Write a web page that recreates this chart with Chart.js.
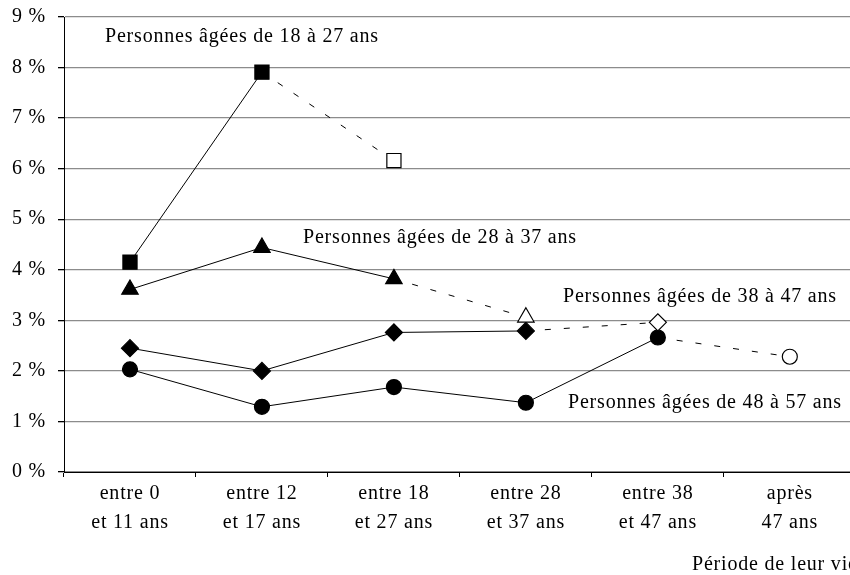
<!DOCTYPE html>
<html>
<head>
<meta charset="utf-8">
<script src="https://cdn.jsdelivr.net/npm/chart.js@4/dist/chart.umd.min.js"></script>
<style>
  html, body { margin: 0; padding: 0; background: #fff; overflow: hidden; }
  #wrap { width: 867px; height: 575px; }
</style>
</head>
<body>
<div id="wrap"><canvas id="lifeChart"></canvas></div>
<script>
// Data block
const periods = [
    ['entre 0', 'et 11 ans'],
    ['entre 12', 'et 17 ans'],
    ['entre 18', 'et 27 ans'],
    ['entre 28', 'et 37 ans'],
    ['entre 38', 'et 47 ans'],
    ['après', '47 ans']
];
const age18to27 = [4.15, 7.91, 6.16, null, null, null];
const age28to37 = [3.61, 4.44, 3.82, 3.06, null, null];
const age38to47 = [2.45, 2.00, 2.76, 2.79, 2.96, null];
const age48to57 = [2.03, 1.29, 1.68, 1.37, 2.66, 2.28];
const groupLabels = [
    'Personnes âgées de 18 à 27 ans',
    'Personnes âgées de 28 à 37 ans',
    'Personnes âgées de 38 à 47 ans',
    'Personnes âgées de 48 à 57 ans'
];
const yTicks = [0, 1, 2, 3, 4, 5, 6, 7, 8, 9];
const axisTitle = 'Période de leur vie';

const serif = 'Liberation Serif';
const spacing = '0.8px';

// last known point of a series is drawn hollow, reached by a dashed segment
function lastIndex(values) {
    let idx = -1;
    values.forEach((v, i) => { if (v !== null) idx = i; });
    return idx;
}

function makeSeries(label, values, style, radius) {
    const last = lastIndex(values);
    return {
        label: label,
        data: values,
        borderColor: '#000',
        borderWidth: 1,
        pointStyle: style,
        pointRadius: radius,
        pointHoverRadius: radius,
        pointBorderColor: '#000',
        pointBorderWidth: 1.2,
        pointBackgroundColor: values.map((v, i) => i === last ? '#fff' : '#000'),
        segment: {
            borderDash: ctx => ctx.p1DataIndex === last ? [6, 13] : undefined
        },
        tension: 0,
        spanGaps: false
    };
}

// no extra room around the plot, the axes decide it
function noPadding(scale) {
    scale.paddingLeft = 0;
    scale.paddingRight = 0;
    scale.paddingTop = 0;
    scale.paddingBottom = 0;
}

// wider letter spacing, like the original print
const letterSpacing = {
    id: 'letterSpacing',
    beforeUpdate(chart) { chart.ctx.letterSpacing = spacing; },
    beforeDraw(chart) { chart.ctx.letterSpacing = spacing; }
};

// Free text labels inside the plot
const annotationText = {
    id: 'annotationText',
    afterDraw(chart) {
        const ctx = chart.ctx;
        ctx.save();
        ctx.letterSpacing = spacing;
        ctx.fillStyle = '#000';
        ctx.font = '20px "' + serif + '"';
        ctx.textBaseline = 'middle';
        ctx.textAlign = 'left';
        ctx.fillText(groupLabels[0], 105, 37);
        ctx.fillText(groupLabels[1], 303, 238);
        ctx.fillText(groupLabels[2], 563, 297);
        ctx.fillText(groupLabels[3], 568, 403);
        ctx.fillText(axisTitle, 692, 565);
        ctx.restore();
    }
};

const lifeData = {
    labels: periods,
    datasets: [
        makeSeries(groupLabels[0], age18to27, 'rect', 10),
        makeSeries(groupLabels[1], age28to37, 'triangle', 9.5),
        makeSeries(groupLabels[2], age38to47, 'rectRot', 8.5),
        makeSeries(groupLabels[3], age48to57, 'circle', 7.5)
    ]
};

const lifeConfig = {
    type: 'line',
    data: lifeData,
    options: {
        responsive: true,
        maintainAspectRatio: false,
        animation: false,
        layout: {
            padding: {top: 17, right: 0, bottom: 0, left: 0}
        },
        plugins: {
            legend: {display: false},
            tooltip: {enabled: false}
        },
        scales: {
            x: {
                offset: true,
                grid: {
                    offset: true,
                    drawOnChartArea: false,
                    tickColor: '#000',
                    tickLength: 5
                },
                border: {color: '#000', width: 1},
                ticks: {
                    color: '#000',
                    padding: 2,
                    maxRotation: 0,
                    autoSkip: false,
                    font: {family: serif, size: 20, lineHeight: 1.45}
                },
                afterFit(scale) {
                    scale.height = 103;
                    noPadding(scale);
                }
            },
            y: {
                min: 0,
                max: 9,
                afterBuildTicks(scale) {
                    scale.ticks = yTicks.map(v => ({value: v}));
                },
                grid: {
                    color: '#8c8c8c',
                    lineWidth: 1.3,
                    tickColor: '#000',
                    tickLength: 6
                },
                border: {color: '#000', width: 1},
                ticks: {
                    color: '#000',
                    padding: 12,
                    font: {family: serif, size: 20},
                    callback: v => v + ' %'
                },
                afterFit(scale) {
                    scale.width = 64;
                    noPadding(scale);
                }
            }
        }
    },
    plugins: [letterSpacing, annotationText]
};

const lifeChart = new Chart(
    document.getElementById('lifeChart'),
    lifeConfig
);
</script>
</body>
</html>
